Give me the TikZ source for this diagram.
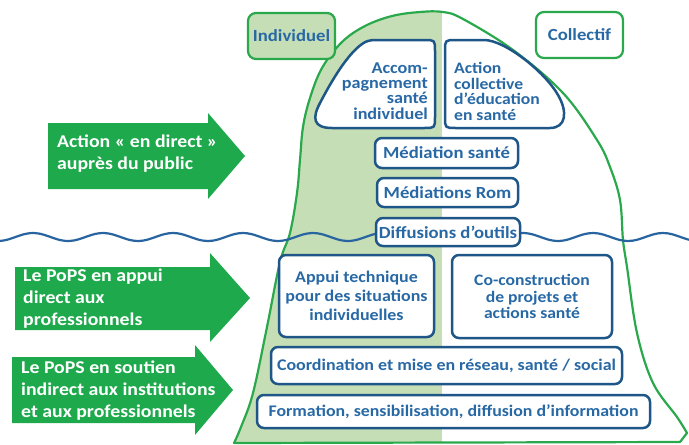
\documentclass[tikz,border=0pt]{standalone}
\usepackage{fontspec}
\newfontfamily\calfont{Carlito}[FakeStretch=1.1]
\definecolor{icegreen}{RGB}{42,168,76}
\definecolor{arrgreen}{RGB}{30,170,76}
\definecolor{shadegreen}{RGB}{198,222,181}
\definecolor{txtblue}{RGB}{40,105,165}
\definecolor{boxblue}{RGB}{30,86,136}
\definecolor{waveblue}{RGB}{40,100,160}
\begin{document}
\begin{tikzpicture}[x=1pt,y=-1pt,
  lbl/.style={draw=icegreen, line width=2.2pt, rounded corners=8pt, minimum width=87pt, minimum height=46pt, text=txtblue, font=\calfont\bfseries\fontsize{17}{20}\selectfont, inner sep=0},
  bx/.style={draw=boxblue, line width=2.5pt, rounded corners=7pt, fill=white, text=txtblue, align=center, inner sep=0, font=\calfont\bfseries\fontsize{17}{19}\selectfont},
  bxline/.style={draw=boxblue, line width=2.5pt, fill=white, line join=round},
  bxtxt/.style={text=txtblue, inner sep=0},
  arr/.style={fill=arrgreen},
  arrtxt/.style={text=white, anchor=west, align=left, inner sep=0, font=\calfont\bfseries\fontsize{18}{22}\selectfont}
]
\useasboundingbox (0,0) rectangle (689,445);

% iceberg shading
\begin{scope}
\clip plot[smooth, tension=0.6] coordinates {(234,443) (241,427) (253,393) (267,327) (280,262) (290,233) (297,193) (300,160) (303,127) (310,98) (322,68) (342,42) (365,26) (392,16) (420,12) (443,12) (463,19) (513,50) (563,93) (597,140) (610,167) (620,200) (623,240) (627,267) (637,333) (653,383) (677,417) (687,433)} -- (680,442) -- cycle;
\fill[shadegreen] (0,0) rectangle (442,445);
\end{scope}
% iceberg outline
\draw[icegreen, line width=2.2pt, line join=round] plot[smooth, tension=0.6] coordinates {(234,443) (241,427) (253,393) (267,327) (280,262) (290,233) (297,193) (300,160) (303,127) (310,98) (322,68) (342,42) (365,26) (392,16) (420,12) (443,12) (463,19) (513,50) (563,93) (597,140) (610,167) (620,200) (623,240) (627,267) (637,333) (653,383) (677,417) (687,433)} -- (680,442) -- cycle;

% water line
\draw[waveblue, line width=2.2pt] plot[domain=0:689, samples=160, smooth] (\x,{237-4*cos((\x-33)/70*360)});

% labels
\node[lbl, fill=shadegreen] (indiv) at (291.5,36) {Individuel};
\node[lbl, fill=white] (coll) at (579.5,35) {Collectif};

% arrows
\fill[arr] (48,123) -- (208,123) -- (208,113) -- (245,156) -- (208,199) -- (208,189) -- (48,189) -- cycle;
\node[arrtxt] (a1) at (57,154) {Action « en direct »\\auprès du public};
\fill[arr] (15,267) -- (210,267) -- (210,253) -- (250,298) -- (210,342) -- (210,330) -- (15,330) -- cycle;
\node[arrtxt] (a2) at (23,298.5) {Le PoPS en appui\\direct aux\\professionnels};
\fill[arr] (12,357) -- (195,357) -- (195,345) -- (233,390) -- (195,435) -- (195,423) -- (12,423) -- cycle;
\node[arrtxt] (a3) at (21,390.5) {Le PoPS en soutien\\indirect aux institutions\\et aux professionnels};

% top boxes
\draw[bxline] (424,40) .. controls (435,40) .. (435,51) -- (435,117) .. controls (435,128) .. (424,128) -- (332,128) .. controls (313,128) and (312,118) .. (320,103) .. controls (333,78) and (348,54) .. (362,44) .. controls (366,41) and (370,40) .. (376,40) -- cycle;
\node[bxtxt, anchor=east, align=right, font=\calfont\bfseries\fontsize{16.5}{15.2}\selectfont] (accom) at (428,91) {Accom-\\pagnement\\santé\\individuel};
\draw[bxline] (456,40) -- (484,40) .. controls (505,40) and (545,72) .. (558,95) .. controls (568,112) and (566,128) .. (550,128) -- (456,128) .. controls (445,128) .. (445,117) -- (445,51) .. controls (445,40) .. (456,40) -- cycle;
\node[bxtxt, anchor=west, align=left, font=\calfont\bfseries\fontsize{16}{15.6}\selectfont] (acoll) at (454,91.5) {Action\\collective\\d’éducation\\en santé};

% middle boxes
\node[bx, minimum width=143pt, minimum height=30pt] (med) at (446.5,153) {Médiation santé};
\node[bx, minimum width=141pt, minimum height=29pt] (rom) at (447.5,192.5) {Médiations Rom};
\node[bx, minimum width=144pt, minimum height=28pt] (diff) at (448,232) {Diffusions d’outils};

% lower boxes
\node[bx, minimum width=155pt, minimum height=82pt, font=\calfont\bfseries\fontsize{16.3}{19}\selectfont] (appui) at (356.5,296) {Appui technique\\pour des situations\\individuelles};
\node[bx, minimum width=160pt, minimum height=83pt, font=\calfont\bfseries\fontsize{16}{16.5}\selectfont, text depth=0pt] (cocon) at (532,296.5) {Co-construction\\de projets et\\actions santé};
\node[bx, minimum width=351pt, minimum height=37pt, font=\calfont\bfseries\fontsize{16.3}{19}\selectfont] (coord) at (446.5,365.5) {Coordination et mise en réseau, santé / social};
\node[bx, minimum width=393pt, minimum height=33pt, font=\calfont\bfseries\fontsize{16.2}{19}\selectfont] (form) at (453.5,411.5) {Formation, sensibilisation, diffusion d’information};
\end{tikzpicture}
\end{document}
